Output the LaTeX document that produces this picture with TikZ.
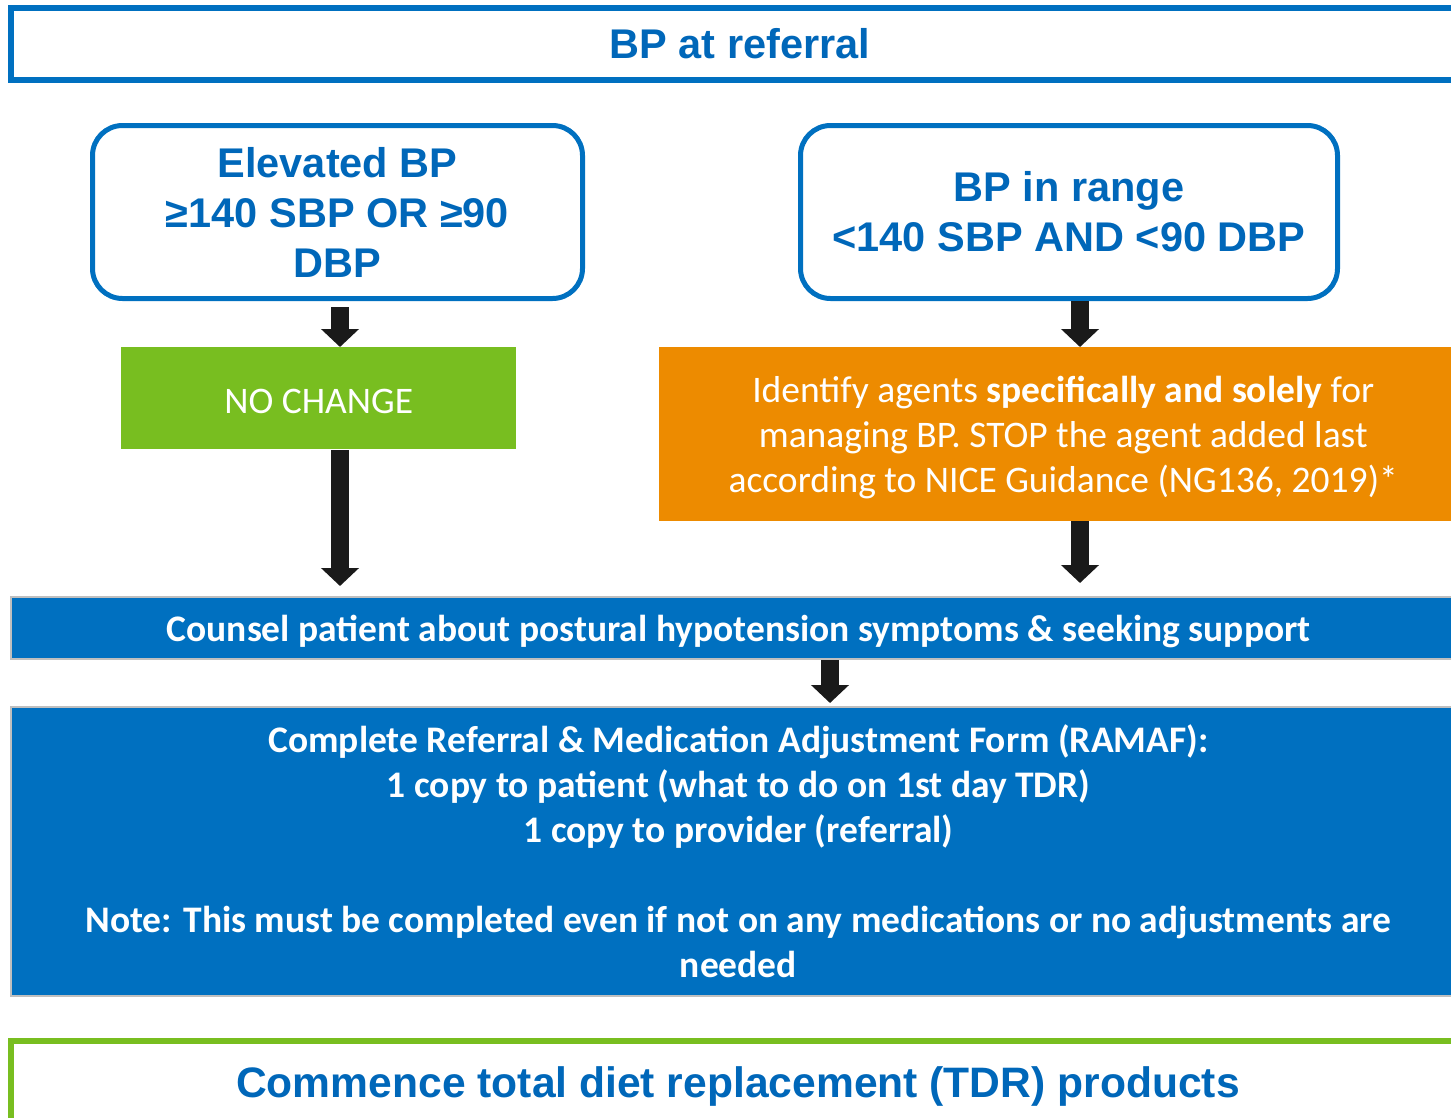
\documentclass[tikz,border=0pt]{standalone}
\usepackage{fontspec}
\newfontfamily\headfont{Liberation Sans}
\newfontfamily\bodyfont{Carlito}
\usetikzlibrary{arrows.meta}

\definecolor{nhsblue}{HTML}{0070C0}
\definecolor{headblue}{HTML}{0067B9}
\definecolor{leafgreen}{HTML}{78BE20}
\definecolor{amber}{HTML}{ED8B00}
\definecolor{arrowgrey}{HTML}{1A1A1A}

\begin{document}
\begin{tikzpicture}[
    x = 1pt, y = -1pt,
    headtext/.style = {font=\headfont\bfseries\fontsize{41.5}{50}\selectfont, text=headblue, align=center, inner sep=0pt},
    bodytext/.style = {font=\bodyfont\fontsize{37.5}{45}\selectfont, text=white, align=center, inner sep=0pt, text depth=0pt},
    framebox/.style = {headtext, draw=nhsblue, line width=6pt, anchor=north west},
    choicebox/.style = {headtext, draw=nhsblue, line width=5pt, rounded corners=30pt, anchor=north west},
    fillbox/.style = {bodytext, anchor=north west},
    bandbox/.style = {bodytext, font=\bodyfont\bfseries\fontsize{37.5}{45}\selectfont, fill=nhsblue, draw=black!25, line width=2pt, anchor=north west},
    blockarrow/.style = {arrowgrey, line width=18pt, -{Triangle[width=37pt, length=18pt]}}
]

\useasboundingbox (0,0) rectangle (1451,1117);

\coordinate (leftcol) at (340,0);
\coordinate (midcol) at (830,0);
\coordinate (rightcol) at (1080,0);

\node[framebox, minimum width=1458pt, minimum height=72pt] (referral) at (8,5) {BP at referral};

\node[choicebox, minimum width=490pt, minimum height=173pt] (elevated) at (90,123) {Elevated BP\\ ≥140 SBP OR ≥90\\ DBP};
\node[choicebox, minimum width=537pt, minimum height=173pt] (inrange) at (798,123) {BP in range\\ <140 SBP AND <90 DBP};

\node[fillbox, fill=leafgreen, minimum width=395pt, minimum height=102pt] (nochange) at (121,347) {\strut NO CHANGE};
\node[fillbox, fill=amber, minimum width=808pt, minimum height=174pt] (stopagent) at (659,347)
    {Identify agents \textbf{specifically and solely} for\\ managing BP. STOP the agent added last\\ according to NICE Guidance (NG136, 2019)*};

\node[bandbox, minimum width=1455pt, minimum height=62pt] (counsel) at (10,596)
    {Counsel patient about postural hypotension symptoms \& seeking support};
\node[bandbox, minimum width=1455pt, minimum height=289pt] (ramaf) at (10,706)
    {Complete Referral \& Medication Adjustment Form (RAMAF):\\
     1 copy to patient (what to do on 1st day TDR)\\
     1 copy to provider (referral)\\[45pt]
     Note: This must be completed even if not on any medications or no adjustments are\\
     needed};

\node[framebox, draw=leafgreen, font=\headfont\bfseries\fontsize{42.6}{50}\selectfont, minimum width=1454pt, minimum height=90pt] (commence) at (8,1038) {Commence total diet replacement (TDR) products};

% block arrows between the stages
\draw[blockarrow, shorten <=6pt] (elevated.south -| leftcol) -- (nochange.north -| leftcol);
\draw[blockarrow] (inrange.south -| rightcol) -- (stopagent.north -| rightcol);
\draw[blockarrow, shorten <=1pt, shorten >=10pt] (nochange.south -| leftcol) -- (counsel.north -| leftcol);
\draw[blockarrow, shorten >=13pt] (stopagent.south -| rightcol) -- (counsel.north -| rightcol);
\draw[blockarrow, shorten >=3pt] (counsel.south -| midcol) -- (ramaf.north -| midcol);

\end{tikzpicture}
\end{document}
